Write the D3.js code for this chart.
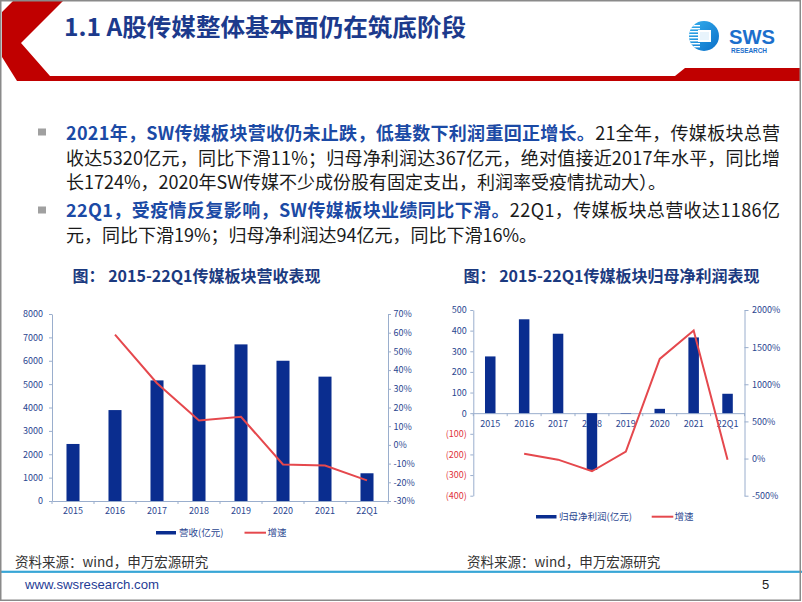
<!DOCTYPE html>
<html><head><meta charset="utf-8">
<script src="https://cdn.jsdelivr.net/npm/d3@7"></script>
<style>
html,body{margin:0;padding:0;background:#fff;}
svg{display:block;}
text{font-family:"Noto Sans CJK SC","Liberation Sans",sans-serif;}
.lat{font-family:"Liberation Sans",Arial,sans-serif;}
</style></head>
<body>
<svg id="c" width="802" height="602"></svg>
<script>
// ---------- data ----------
const years = ["2015","2016","2017","2018","2019","2020","2021","22Q1"];
const revenue = [2440, 3890, 5160, 5830, 6700, 6000, 5320, 1186];       // 营收（亿元）
const revenueGrowth = [null, 59, 33, 13, 15, -10.5, -11, -19];          // 增速 %
const profit = [275, 455, 385, -275, -2, 21, 367, 94];                  // 归母净利润（亿元）
const profitGrowth = [null, 65, -15, -171, 95, 1342, 1724, -16];        // 增速 %
const revTicks = [0,1000,2000,3000,4000,5000,6000,7000,8000];
const revPctTicks = [-30,-20,-10,0,10,20,30,40,50,60,70];
const profTicks = [-400,-300,-200,-100,0,100,200,300,400,500];
const profPctTicks = [-500,0,500,1000,1500,2000];

const pageTitle = "1.1 A股传媒整体基本面仍在筑底阶段";
const chartTitles = ["图： 2015-22Q1传媒板块营收表现", "图： 2015-22Q1传媒板块归母净利润表现"];
const bodyLines = [
  [["2021年，SW传媒板块营收仍未止跌，低基数下利润重回正增长。", true], ["21全年，传媒板块总营", false]],
  [["收达5320亿元，同比下滑11%；归母净利润达367亿元，绝对值接近2017年水平，同比增", false]],
  [["长1724%，2020年SW传媒不少成份股有固定支出，利润率受疫情扰动大）。", false]],
  [["22Q1，受疫情反复影响，SW传媒板块业绩同比下滑。", true], ["22Q1，传媒板块总营收达1186亿", false]],
  [["元，同比下滑19%；归母净利润达94亿元，同比下滑16%。", false]]
];
const source = "资料来源：wind，申万宏源研究";

// ---------- colours ----------
const BAR = "#0A2D8F", LINE = "#E5484D", AX = "#9AAECD", LBL = "#2A4690", NEG = "#E0323C";

const svg = d3.select("#c");

// ---------- header ----------
svg.append("path")
  .attr("d","M13,1 L63,1 L21,43 L50,76 L675,76 L685,68 L800,68 L800,81 L17,81 L2,57 L2,12 Z")
  .attr("fill","#C00000");
svg.append("text").attr("x",64).attr("y",35.5).text(pageTitle)
  .attr("font-size",24).attr("font-weight",700).attr("fill","#1C3A8C")
  .attr("textLength",402).attr("lengthAdjust","spacingAndGlyphs");

// logo
const defs = svg.append("defs");
const lg = defs.append("linearGradient").attr("id","lg").attr("x1","0").attr("y1","0").attr("x2","1").attr("y2","1");
lg.append("stop").attr("offset","0").attr("stop-color","#36B0EE");
lg.append("stop").attr("offset","1").attr("stop-color","#0A6FC8");
defs.append("clipPath").attr("id","cc").append("circle").attr("cx",704).attr("cy",36).attr("r",15);
const logo = svg.append("g");
logo.append("circle").attr("cx",704).attr("cy",36).attr("r",15).attr("fill","url(#lg)");
const lgc = logo.append("g").attr("clip-path","url(#cc)");
[25,28,31,34,37,40,43,46].forEach(y=>lgc.append("rect").attr("x",686).attr("y",y).attr("width",14).attr("height",1.4).attr("fill","#fff"));
logo.append("rect").attr("x",698).attr("y",30).attr("width",13).attr("height",12).attr("fill","#fff");
logo.append("rect").attr("x",700).attr("y",32).attr("width",9).attr("height",8).attr("fill","#E8F4FC");
logo.append("text").attr("class","lat").attr("x",729).attr("y",43.5).text("SWS")
  .attr("font-size",21).attr("font-weight",700).attr("fill","#1C6FCC").attr("textLength",46).attr("lengthAdjust","spacingAndGlyphs");
logo.append("text").attr("class","lat").attr("x",731).attr("y",52.5).text("RESEARCH")
  .attr("font-size",6.5).attr("font-weight",700).attr("fill","#1C6FCC").attr("textLength",36);

// ---------- body text ----------
const baselines = [139.5, 164.5, 188.5, 216.5, 241.5];
const justify = [true, true, false, true, false];
bodyLines.forEach((segs,i)=>{
  const t = svg.append("text").attr("x",66).attr("y",baselines[i]).attr("font-size",18);
  if (justify[i]) t.attr("textLength",714).attr("lengthAdjust","spacing");
  segs.forEach(([s,b])=>{
    t.append("tspan").text(s).attr("fill", b ? "#1B4AA5" : "#1A1A1A").attr("font-weight", b ? 700 : 400);
  });
});
[132.5, 210.5].forEach(y=>svg.append("rect").attr("x",38).attr("y",y-4).attr("width",8).attr("height",7).attr("fill","#A0A0A0"));

// ---------- chart titles ----------
svg.append("text").attr("x",196.5).attr("y",281.5).attr("text-anchor","middle").text(chartTitles[0])
  .attr("font-size",16).attr("font-weight",700).attr("fill","#1B3A80");
svg.append("text").attr("x",611.5).attr("y",281.5).attr("text-anchor","middle").text(chartTitles[1])
  .attr("font-size",16).attr("font-weight",700).attr("fill","#1B3A80");

function styleAxis(g){
  g.selectAll(".domain").attr("stroke",AX).attr("stroke-width",1);
  g.selectAll(".tick line").attr("stroke",AX);
  g.selectAll(".tick text").attr("fill",LBL).attr("font-size",9).attr("font-family","Liberation Sans, Arial, sans-serif");
}

// ---------- chart 1 ----------
{
  const x0 = 52, x1 = 388, yTop = 314, yBot = 501;
  const x = d3.scaleBand().domain(years).range([x0,x1]);
  const y = d3.scaleLinear().domain([0,8000]).range([yBot,yTop]);
  const yr = d3.scaleLinear().domain([-30,70]).range([yBot,yTop]);
  const bw = x.step()*0.31;
  const g = svg.append("g");
  g.selectAll("rect.b").data(years).enter().append("rect")
    .attr("x",d=>x(d)+x.bandwidth()/2-bw/2).attr("width",bw)
    .attr("y",(d,i)=>y(revenue[i])).attr("height",(d,i)=>y(0)-y(revenue[i])).attr("fill",BAR);
  const ga = g.append("g").attr("transform",`translate(${x0},0)`).call(d3.axisLeft(y).tickValues(revTicks).tickFormat(d=>String(d)).tickSize(3).tickPadding(6).tickSizeOuter(0));
  styleAxis(ga);
  const gr = g.append("g").attr("transform",`translate(${x1},0)`).call(d3.axisRight(yr).tickValues(revPctTicks).tickFormat(d=>d+"%").tickSize(3).tickPadding(2.5).tickSizeOuter(0));
  styleAxis(gr);
  const gx = g.append("g").attr("transform",`translate(0,${yBot})`).call(d3.axisBottom(x).tickSize(0).tickPadding(7).tickSizeOuter(0));
  styleAxis(gx);
  g.selectAll("line.bt").data(d3.range(years.length+1)).enter().append("line")
    .attr("x1",i=>x0+i*x.step()).attr("x2",i=>x0+i*x.step()).attr("y1",yBot).attr("y2",yBot+3).attr("stroke",AX);
  const ln = d3.line().defined(d=>d[1]!=null).x(d=>x(d[0])+x.bandwidth()/2).y(d=>yr(d[1]));
  g.append("path").datum(years.map((d,i)=>[d,revenueGrowth[i]])).attr("d",ln)
    .attr("fill","none").attr("stroke",LINE).attr("stroke-width",2);
  // legend
  const lgd = g.append("g");
  lgd.append("rect").attr("x",156).attr("y",531).attr("width",20).attr("height",3.5).attr("fill",BAR);
  lgd.append("text").attr("x",179).attr("y",536).text("营收(亿元)").attr("font-size",9.5).attr("fill",LBL);
  lgd.append("line").attr("x1",244.5).attr("x2",266).attr("y1",532.7).attr("y2",532.7).attr("stroke",LINE).attr("stroke-width",2);
  lgd.append("text").attr("x",267.5).attr("y",536).text("增速").attr("font-size",9.5).attr("fill",LBL);
}

// ---------- chart 2 ----------
{
  const x0 = 473.3, x1 = 744.5, yTop = 310, yBot = 495.7;
  const x = d3.scaleBand().domain(years).range([x0,x1]);
  const y = d3.scaleLinear().domain([-400,500]).range([yBot,yTop]);
  const yr = d3.scaleLinear().domain([-500,2000]).range([yBot,yTop]);
  const bw = x.step()*0.31;
  const g = svg.append("g");
  const gx = g.append("g").attr("transform",`translate(0,${y(0)})`).call(d3.axisBottom(x).tickSize(0).tickPadding(7).tickSizeOuter(0));
  styleAxis(gx);
  g.selectAll("line.bt").data(d3.range(years.length+1)).enter().append("line")
    .attr("x1",i=>x0+i*x.step()).attr("x2",i=>x0+i*x.step()).attr("y1",y(0)).attr("y2",y(0)+3).attr("stroke",AX);
  g.selectAll("rect.b").data(years).enter().append("rect")
    .attr("x",d=>x(d)+x.bandwidth()/2-bw/2).attr("width",bw)
    .attr("y",(d,i)=>Math.min(y(profit[i]),y(0))).attr("height",(d,i)=>Math.abs(y(0)-y(profit[i]))).attr("fill",BAR);
  const ga = g.append("g").attr("transform",`translate(${x0},0)`).call(d3.axisLeft(y).tickValues(profTicks)
    .tickFormat(d=>d<0?`(${-d})`:String(d)).tickSize(3).tickPadding(3.5).tickSizeOuter(0));
  styleAxis(ga);
  ga.selectAll(".tick text").attr("fill",d=>d<0?NEG:LBL);
  const gr = g.append("g").attr("transform",`translate(${x1},0)`).call(d3.axisRight(yr).tickValues(profPctTicks).tickFormat(d=>d+"%").tickSize(4).tickPadding(3.5).tickSizeOuter(0));
  styleAxis(gr);
  const ln = d3.line().defined(d=>d[1]!=null).x(d=>x(d[0])+x.bandwidth()/2).y(d=>yr(d[1]));
  g.append("path").datum(years.map((d,i)=>[d,profitGrowth[i]])).attr("d",ln)
    .attr("fill","none").attr("stroke",LINE).attr("stroke-width",2);
  const lgd = g.append("g");
  lgd.append("rect").attr("x",536).attr("y",515).attr("width",20.5).attr("height",3.5).attr("fill",BAR);
  lgd.append("text").attr("x",559).attr("y",520).text("归母净利润(亿元)").attr("font-size",9.5).attr("fill",LBL);
  lgd.append("line").attr("x1",651.7).attr("x2",673.3).attr("y1",516.7).attr("y2",516.7).attr("stroke",LINE).attr("stroke-width",2);
  lgd.append("text").attr("x",674.5).attr("y",520).text("增速").attr("font-size",9.5).attr("fill",LBL);
}

// ---------- footer ----------
svg.append("text").attr("x",15).attr("y",566.5).text(source).attr("font-size",13.5).attr("fill","#333");
svg.append("text").attr("x",467).attr("y",566.5).text(source).attr("font-size",13.5).attr("fill","#333");
svg.append("rect").attr("x",0).attr("y",570.7).attr("width",802).attr("height",2.2).attr("fill","#38A6D6");
svg.append("text").attr("class","lat").attr("x",25).attr("y",589).text("www.swsresearch.com")
  .attr("font-size",13.5).attr("fill","#1F3C95").attr("textLength",134).attr("lengthAdjust","spacingAndGlyphs");
svg.append("text").attr("class","lat").attr("x",762).attr("y",589).text("5").attr("font-size",13).attr("fill","#222");

// frame
svg.append("rect").attr("x",0.75).attr("y",0.75).attr("width",799.5).attr("height",599.5)
  .attr("fill","none").attr("stroke","#8A8A8A").attr("stroke-width",1.5);
</script>
</body></html>
